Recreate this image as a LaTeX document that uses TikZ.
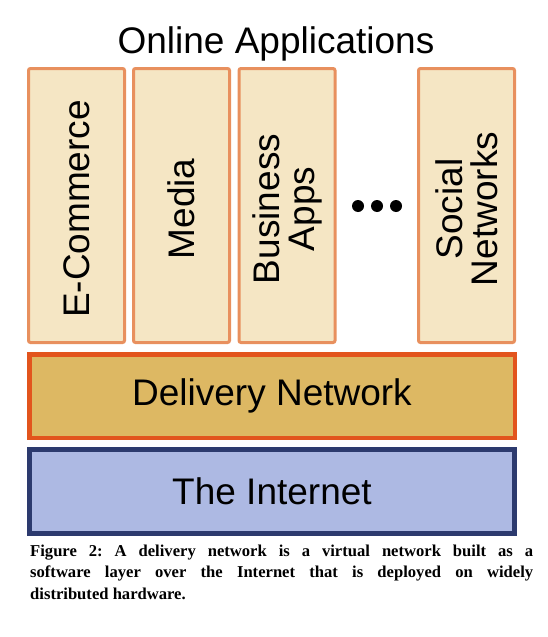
\documentclass[tikz,border=0pt]{standalone}
\usepackage{fontspec}
\setmainfont{Liberation Sans}
\newfontfamily\capfont{Liberation Serif}
\definecolor{appfill}{RGB}{245,230,196}
\definecolor{appline}{RGB}{232,144,94}
\definecolor{delfill}{RGB}{221,184,99}
\definecolor{delline}{RGB}{226,84,29}
\definecolor{inetfill}{RGB}{173,185,227}
\definecolor{inetline}{RGB}{44,58,110}
\begin{document}
\begin{tikzpicture}[x=1pt,y=-1pt,
  appbox/.style={draw=appline, fill=appfill, line width=3pt, rounded corners=2pt,
    minimum width=96pt, minimum height=274pt, inner sep=0pt},
  apptext/.style={rotate=90, align=center, inner sep=0pt,
    font=\fontsize{37}{35}\selectfont},
  layerbox/.style={line width=#1, inner sep=0pt, font=\fontsize{37}{40}\selectfont},
  dotnode/.style={circle, fill=black, minimum size=12pt, inner sep=0pt}]
\useasboundingbox (0,0) rectangle (547,637);

\node[font=\fontsize{37}{40}\selectfont, anchor=base, inner sep=0pt] (title) at (276,53) {Online Applications};

\node[appbox] (ecombox) at (76.5,205.5) {};
\node[appbox] (mediabox) at (181.5,205.5) {};
\node[appbox] (bizbox) at (287,205.5) {};
\node[appbox] (socbox) at (466.5,205.5) {};

\node[apptext] (ecom) at (76.5,209) {E-Commerce};
\node[apptext] (media) at (181.5,209) {Media};
\node[apptext] (biz) at (287,209) {Business\\Apps};
\node[apptext] (soc) at (466.5,209) {Social\\Networks};

\node[dotnode] (d1) at (358,206) {};
\node[dotnode] (d2) at (377,206) {};
\node[dotnode] (d3) at (396,206) {};

\node[layerbox=4.5pt, draw=delline, fill=delfill, minimum width=485.5pt, minimum height=83.5pt] (deliv) at (272,396) {Delivery Network};
\node[layerbox=5pt, draw=inetline, fill=inetfill, minimum width=485pt, minimum height=84pt] (inet) at (272,491.5) {The Internet};

\node[anchor=base west, inner sep=0pt, text width=503pt, align=justify,
  font=\capfont\bfseries\fontsize{16.6}{21.5}\selectfont]
  (caption) at (30,556) {\frenchspacing\tolerance=10000\relax\hbadness=10000\relax Figure 2: A delivery network is a virtual network built as a\linebreak software layer over the Internet that is deployed on widely\linebreak distributed hardware.};
\end{tikzpicture}
\end{document}
